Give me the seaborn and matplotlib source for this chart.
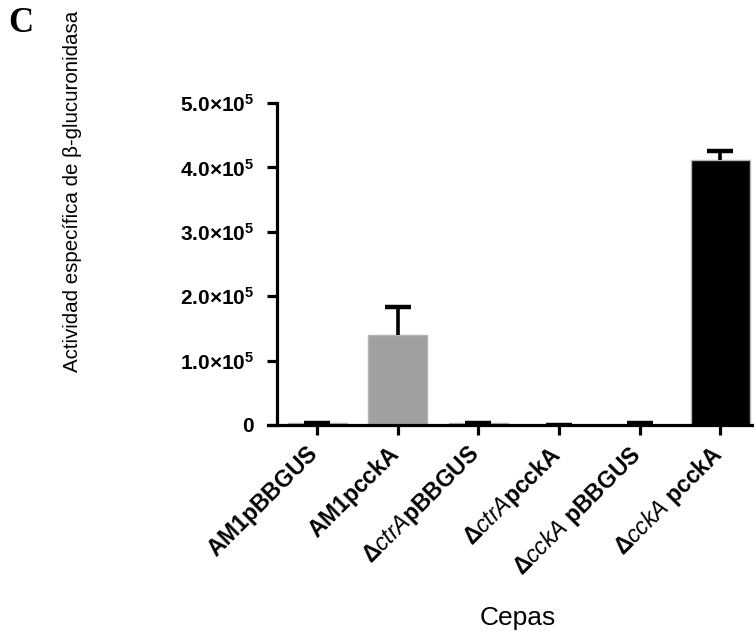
"""
Bar chart of beta-glucuronidase specific activity per strain (panel C).
"""

import matplotlib
matplotlib.use('Agg')
import matplotlib.pyplot as plt
from matplotlib.transforms import ScaledTranslation
import seaborn as sns
import numpy as np

# Data
strains = ["AM1pBBGUS", "AM1pcckA", "ΔctrApBBGUS", "ΔctrApcckA", "ΔcckApBBGUS", "ΔcckApcckA"]
strain_labels = [
    r"$\mathbf{AM1pBBGUS}$",
    r"$\mathbf{AM1pcckA}$",
    r"$\mathit{ΔctrA}\mathbf{pBBGUS}$",
    r"$\mathit{ΔctrA}\mathbf{pcckA}$",
    r"$\mathit{ΔcckA}\ \mathbf{pBBGUS}$",
    r"$\mathit{ΔcckA}\ \mathbf{pcckA}$",
]
activity = [3000, 140500, 2500, 0, 0, 411000]
error_up = [0, 43500, 800, 0, 2500, 14000]
bar_colors = ["black", "#a09fa4", "#a09fa4", "white", "white", "black"]
y_ticks = [0, 100000, 200000, 300000, 400000, 500000]
y_tick_labels = ["0", r"1.0×10$^{5}$", r"2.0×10$^{5}$", r"3.0×10$^{5}$", r"4.0×10$^{5}$", r"5.0×10$^{5}$"]

sns.set_style("ticks")

# fonts and colours (set after seaborn style)
plt.rcParams['font.family'] = ['Liberation Sans', 'DejaVu Sans']
plt.rcParams['mathtext.fontset'] = 'custom'
plt.rcParams['mathtext.rm'] = 'Liberation Sans:bold'
plt.rcParams['mathtext.it'] = 'Liberation Sans:italic'
plt.rcParams['mathtext.bf'] = 'Liberation Sans:bold'
plt.rcParams['mathtext.default'] = 'bf'
for key in ['text.color', 'axes.labelcolor', 'xtick.color', 'ytick.color', 'axes.edgecolor']:
    plt.rcParams[key] = 'black'

fig = plt.figure(figsize=(7.54, 6.32), dpi=100)
ax = fig.add_axes([268 / 754, 207 / 632, 486 / 754, 322 / 632])

sns.barplot(x=strains, y=activity, hue=strains, palette=bar_colors, legend=False,
            order=strains, width=0.73, edgecolor="#b4b4b4", linewidth=1, ax=ax)

# upper error bars only, GraphPad style
eb = ax.errorbar(np.arange(len(strains)), activity, yerr=[np.zeros(len(strains)), error_up],
                 fmt='none', ecolor='black', elinewidth=2.6, capsize=9.7, capthick=3.2, zorder=3)
eb.lines[1][0].set_visible(False)   # hide the lower caps sitting on the bar tops

ax.set_xlim(-0.612, 5.42)
ax.set_ylim(0, 500000)

# axes styling
sns.despine(ax=ax)
ax.spines['left'].set_position(('data', -0.5))
for side in ['left', 'bottom']:
    ax.spines[side].set_linewidth(2.3)
    ax.spines[side].set_zorder(4)

ax.set_yticks(y_ticks)
ax.set_yticklabels(y_tick_labels, fontsize=15, fontweight='bold')
ax.set_xticks(np.arange(len(strains)))
ax.set_xticklabels(strain_labels, fontsize=16.5, rotation=45, ha='right', rotation_mode='anchor')
ax.tick_params(axis='both', width=2.3, length=7.5, color='black')
ax.tick_params(axis='y', pad=9)
ax.tick_params(axis='x', pad=8)

# nudge the rotated labels so their corner sits just under the tick
shift = ScaledTranslation(-0.11, 0.05, fig.dpi_scale_trans)
for label in ax.get_xticklabels():
    label.set_transform(label.get_transform() + shift)

ax.set_xlabel("Cepas", fontsize=19)
ax.xaxis.set_label_coords((518 - 268) / 486, (425 - 606) / 322)
ax.xaxis.label.set_va('top')
ax.set_ylabel("")

fig.text(73 / 754, 1 - 191 / 632, "Actividad específica de β-glucuronidasa", rotation=90,
         ha='center', va='center', fontsize=14.8)
fig.text(8 / 754, 1 - 32 / 632, "C", fontsize=25, fontweight='bold', family='Liberation Serif',
         ha='left', va='baseline')

fig.savefig("out.png", dpi=100)
plt.close(fig)
